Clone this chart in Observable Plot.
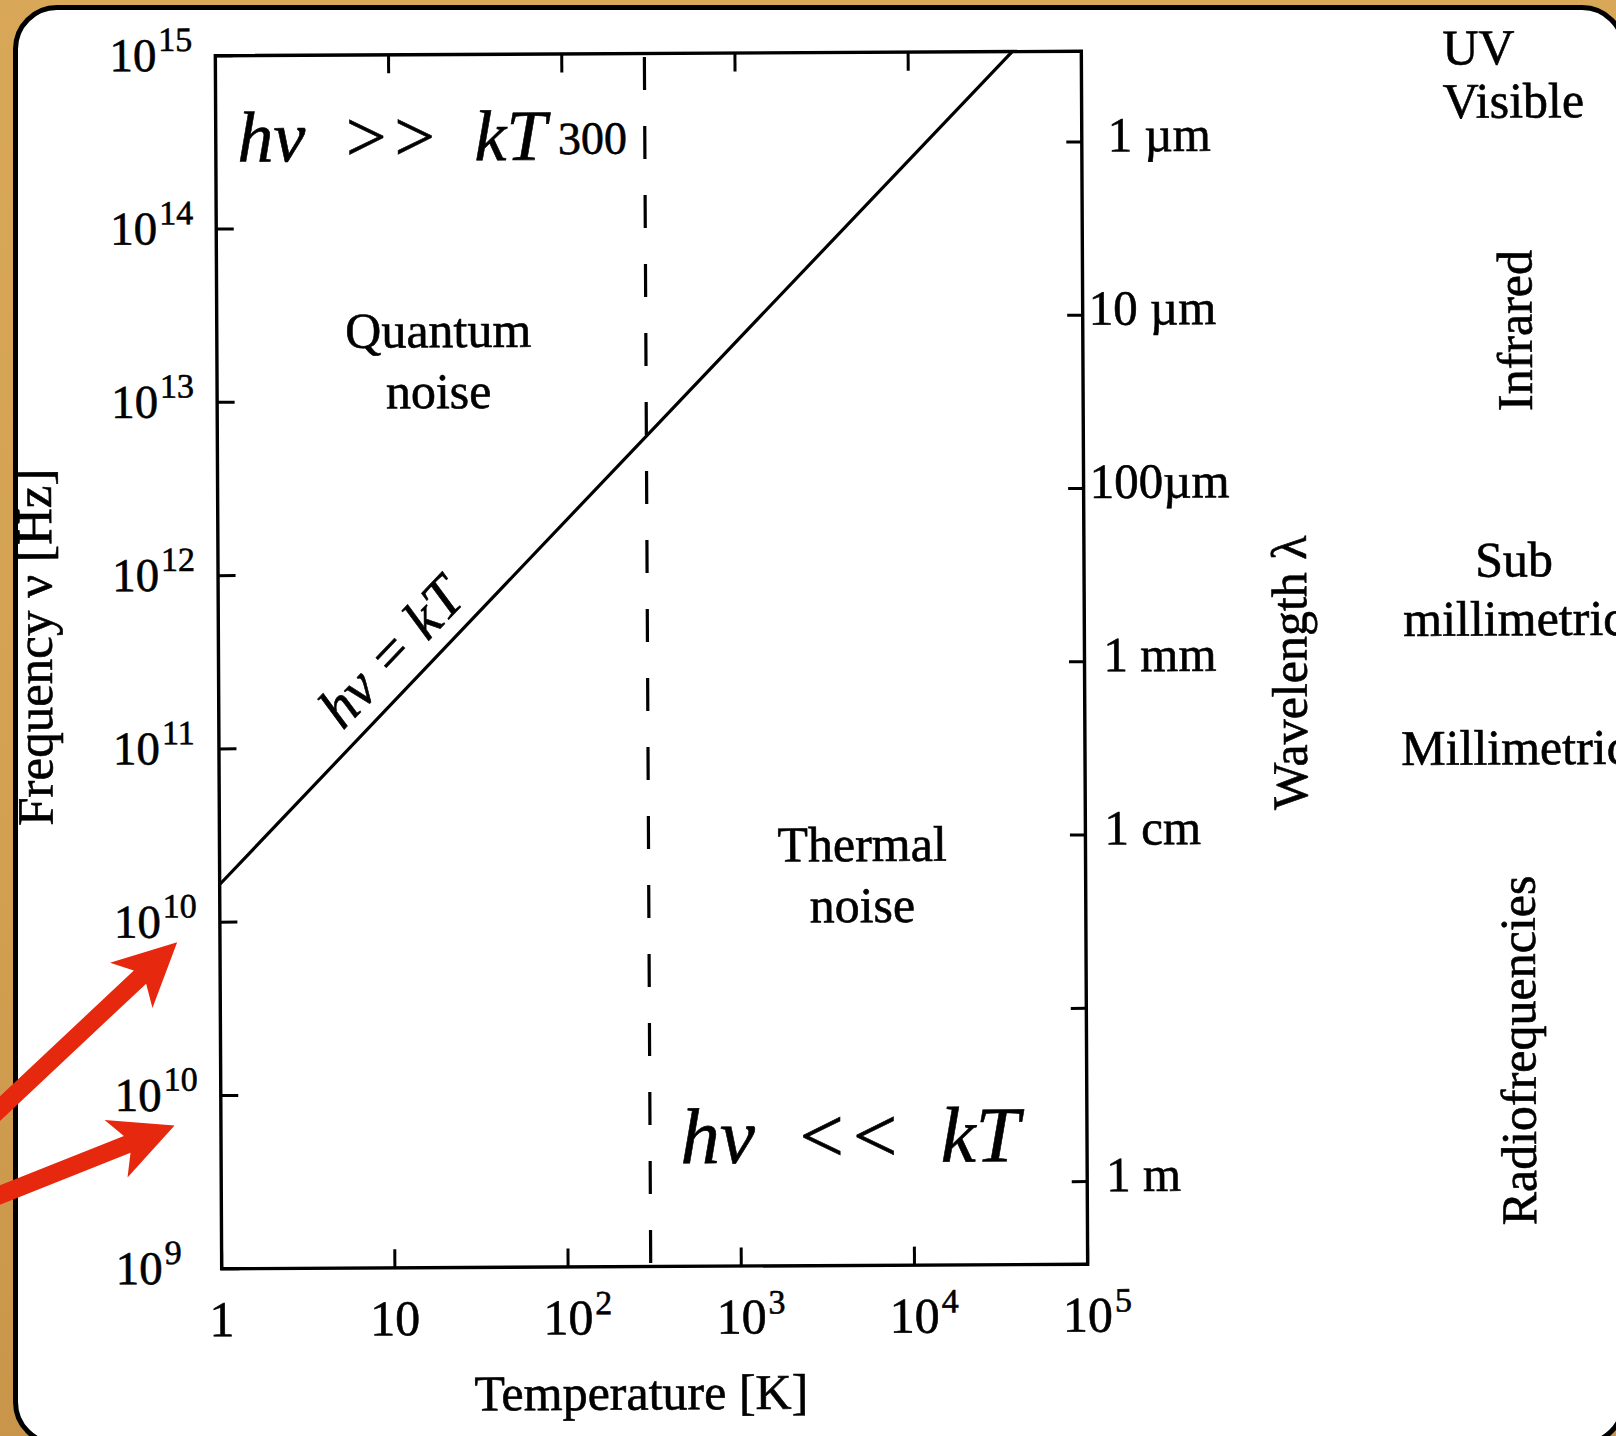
<!DOCTYPE html>
<html><head><meta charset="utf-8">
<script src="https://cdn.jsdelivr.net/npm/d3@7"></script>
<script src="https://cdn.jsdelivr.net/npm/@observablehq/plot@0.6"></script>
<style>
html,body{margin:0;padding:0;}
body{width:1616px;height:1436px;overflow:hidden;position:relative;background:linear-gradient(180deg,#D9A758 0%,#D4A152 55%,#C9954A 100%);}
#panel{position:absolute;left:13px;top:5px;right:-10px;bottom:-10px;background:#fff;border:5px solid #000;border-radius:44px;box-sizing:border-box;}
#chart{position:absolute;left:0;top:0;width:1616px;height:1436px;}
#chart svg{transform:rotate(-0.3deg);transform-origin:651px 660px;}
#chart svg text{stroke:#000;stroke-width:0.6px;}
</style></head><body>
<div id="panel"></div>
<div id="chart"></div>
<script>
// ---- axes ----
const xTicks = [1, 10, 100, 1000, 10000, 100000];
const xTickLabels = ["1", "10", "10^2", "10^3", "10^4", "10^5"];
const xTopTicks = [10, 100, 1000, 10000];
const yTicks = [1e8, 1e9, 1e10, 1e11, 1e12, 1e13, 1e14, 1e15];
const yTickLabels = ["10^9", "10^10", "10^10", "10^11", "10^12", "10^13", "10^14", "10^15"];
const wavelengths = [1e-6, 1e-5, 1e-4, 1e-3, 1e-2, 1e-1, 1];
const wavelengthLabels = ["1 µm", "10 µm", "100µm", "1 mm", "1 cm", "", "1 m"];
const lightSpeed = 2.998e8;

// ---- hν = kT line ----
const lineT = [1, 300, 39900];
const lineNu = [1.65e10, 6.2e12, 1e15];

// ---- 300 K boundary ----
const boundaryT = [300];
const boundaryLabelNu = 2.65e14;

// ---- regime labels ----
const noiseLabels = ["Quantum\nnoise", "Thermal\nnoise"];
const noiseT = [19, 5130];
const noiseNu = [1.77e13, 1.86e10];

const mathLabels = ["hν\u2002>>\u2002kT", "hν\u2002<<\u2002kT"];
const mathT = [1.332, 449];
const mathNu = [2.45e14, 3.94e8];

const equalityLabel = ["hν = kT"];
const equalityT = [10];
const equalityNu = [3.55e11];

// ---- spectral bands (right side) ----
const bandLabels = ["UV\nVisible", "Infrared", "Sub\nmillimetric", "Millimetric", "Radiofrequencies"];
const bandNu = [7.2e14, 2.37e13, 7.85e11, 9.55e10, 1.66e9];
const bandRotate = [0, -90, 0, 0, -90];

// ---- red annotation arrows ----
const arrowT = [0.566, 0.54];
const arrowNu = [7.69e9, 6.73e8];
const arrowAngle = [47.1, 68.6];

const wavelengthNu = wavelengths.map(l => lightSpeed / l);
const lineData = lineT.map((T, i) => ({T, nu: lineNu[i]}));

const arrowShape = {
  draw(ctx, l) {
    const w = 9, notch = 51, hl = 63, hw = 31;
    ctx.moveTo(-w, 0);
    ctx.lineTo(-w, -l + notch);
    ctx.lineTo(-hw, -l + hl);
    ctx.lineTo(0, -l);
    ctx.lineTo(hw, -l + hl);
    ctx.lineTo(w, -l + notch);
    ctx.lineTo(w, 0);
    ctx.closePath();
  }
};

const serif = "'Liberation Serif', 'Times New Roman', serif";
const wlText = (idx, dx) => Plot.text(idx, {frameAnchor: "right", y: i => wavelengthNu[i], text: i => wavelengthLabels[i], textAnchor: "start", lineAnchor: "middle", dx, dy: -6, fontSize: 49});

const plot = Plot.plot({
  width: 1616, height: 1436,
  marginLeft: 218, marginRight: 532, marginTop: 53, marginBottom: 170,
  x: {type: "log", domain: [1, 1e5]},
  y: {type: "log", domain: [1e8, 1e15]},
  style: {background: "transparent", fontFamily: serif, fontSize: "48px", color: "#000", overflow: "visible"},
  marks: [
    Plot.ruleX(boundaryT, {x: d => d, stroke: "#000", strokeWidth: 3.2, strokeDasharray: "33,36", strokeDashoffset: 65}),
    Plot.line(lineData, {x: "T", y: "nu", stroke: "#000", strokeWidth: 3.2}),
    Plot.axisX({anchor: "bottom", ticks: xTicks, tickFormat: d => xTickLabels[xTicks.indexOf(d)], tickSize: -18, tickPadding: 50, strokeWidth: 3, fontSize: 50, label: null}),
    Plot.axisX({anchor: "top", ticks: xTopTicks, tickFormat: () => "", tickSize: -18, strokeWidth: 3, label: null}),
    Plot.axisY({anchor: "left", ticks: yTicks, tickFormat: d => yTickLabels[yTicks.indexOf(d)], tickSize: -18, tickPadding: 77, strokeWidth: 3, fontSize: 47, label: null}),
    Plot.axisY({anchor: "right", ticks: wavelengthNu, tickFormat: () => "", tickSize: -16, strokeWidth: 3, label: null}),
    wlText([0], 26),
    wlText([1, 2], 6),
    wlText([3, 4, 6], 19),
    Plot.frame({stroke: "#000", strokeWidth: 3.4}),

    Plot.text(noiseLabels, {x: (d, i) => noiseT[i], y: (d, i) => noiseNu[i], text: d => d, fontSize: 50, lineHeight: 1.22}),
    Plot.text([mathLabels[0]], {x: () => mathT[0], y: () => mathNu[0], text: d => d, textAnchor: "start", lineAnchor: "bottom", fontSize: 72, fontStyle: "italic"}),
    Plot.text([mathLabels[1]], {x: () => mathT[1], y: () => mathNu[1], text: d => d, textAnchor: "start", lineAnchor: "bottom", fontSize: 79, fontStyle: "italic"}),
    Plot.text(boundaryT, {x: d => d, y: () => boundaryLabelNu, text: d => String(d), textAnchor: "end", lineAnchor: "bottom", dx: -18, fontSize: 46}),
    Plot.text(equalityLabel, {x: (d, i) => equalityT[i], y: (d, i) => equalityNu[i], text: d => d, rotate: -46.1, fontSize: 58, fontStyle: "italic"}),

    Plot.text(["Frequency ν [Hz]"], {frameAnchor: "left", textAnchor: "middle", lineAnchor: "middle", dx: -183, dy: -16, rotate: -90, fontSize: 51}),
    Plot.text(["Temperature [K]"], {frameAnchor: "bottom", textAnchor: "middle", lineAnchor: "middle", dx: -14, dy: 127, fontSize: 50}),
    Plot.text(["Wavelength λ"], {frameAnchor: "right", textAnchor: "middle", lineAnchor: "middle", dx: 206, dy: 16, rotate: -90, fontSize: 50}),

    Plot.text([0], {frameAnchor: "right", y: i => bandNu[i], text: i => bandLabels[i], dx: 361, textAnchor: "start", lineAnchor: "middle", lineHeight: 1.07, fontSize: 50}),
    Plot.text([1, 2, 3, 4], {frameAnchor: "right", y: i => bandNu[i], text: i => bandLabels[i], rotate: i => bandRotate[i], dx: 430, textAnchor: "middle", lineAnchor: "middle", lineHeight: 1.18, fontSize: 50}),

    Plot.vector([0, 1], {x: i => arrowT[i], y: i => arrowNu[i], rotate: i => arrowAngle[i], length: 320, anchor: "end", shape: arrowShape, fill: "#E6280F", stroke: "none"})
  ]
});

// superscripts for tick labels written as 10^n; the base "10" keeps a fixed anchor
const ns = "http://www.w3.org/2000/svg";
plot.querySelectorAll("text").forEach(t => {
  const m = /^(.+)\^(\d+)$/.exec(t.textContent);
  if (!m) return;
  const isX = !!t.closest('[aria-label="x-axis tick label"]');
  const base = isX ? 50 : 47;
  const supSize = 34;
  const raise = 20;
  const w = m[1].length * 0.5 * base;
  t.setAttribute("text-anchor", "start");
  t.textContent = "";
  const a = document.createElementNS(ns, "tspan");
  a.textContent = m[1];
  a.setAttribute("dx", isX ? -w / 2 : -w);
  const b = document.createElementNS(ns, "tspan");
  b.textContent = m[2];
  b.setAttribute("font-size", supSize);
  b.setAttribute("dy", -raise);
  b.setAttribute("dx", 2);
  t.append(a, b);
});

document.getElementById("chart").appendChild(plot);
</script></body></html>
